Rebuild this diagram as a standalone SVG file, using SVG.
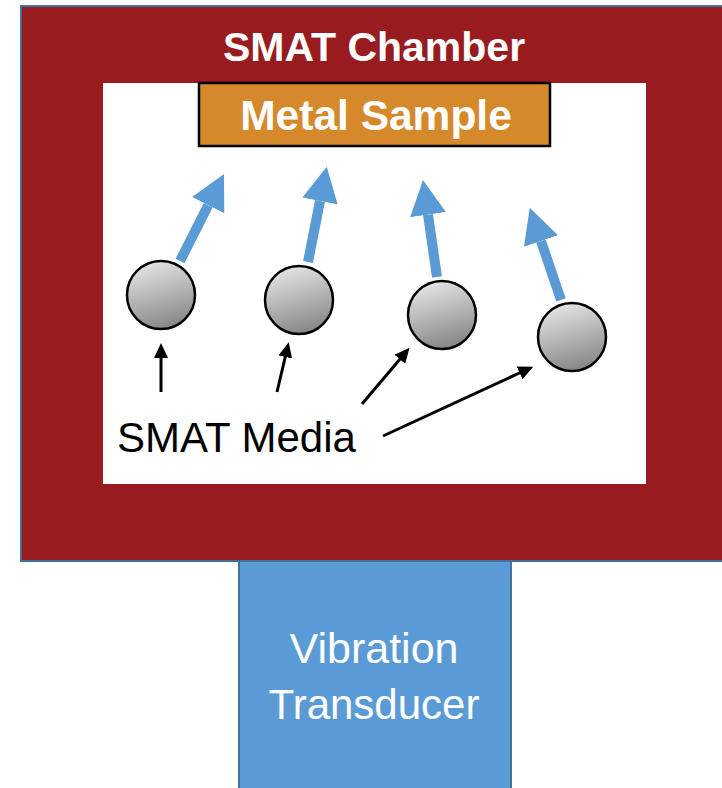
<svg xmlns="http://www.w3.org/2000/svg" width="722" height="788" viewBox="0 0 722 788">
<style>
.lbl{font-family:"Liberation Sans","DejaVu Sans",sans-serif;text-anchor:middle}
.w{fill:#ffffff}
.b{font-weight:bold}
.blue{stroke:#5B9BD5;stroke-width:10;fill:none}
.blk{stroke:#000;stroke-width:3;fill:none}
.ball{fill:url(#g);stroke:#000;stroke-width:2.5}
</style>
<defs>
<linearGradient id="g" x1="0.3" y1="0" x2="0.6" y2="1">
<stop offset="0" stop-color="#e6e6e6"/>
<stop offset="1" stop-color="#858585"/>
</linearGradient>
<marker id="ab" markerUnits="userSpaceOnUse" viewBox="0 0 35 36" refX="0" refY="18" markerWidth="35" markerHeight="36" orient="auto">
<path d="M0,0 L35,18 L0,36 Z" fill="#5B9BD5"/>
</marker>
<marker id="ak" markerUnits="userSpaceOnUse" viewBox="0 0 15 14" refX="1" refY="7" markerWidth="15" markerHeight="14" orient="auto">
<path d="M0,0 L15,7 L0,14 Z" fill="#000"/>
</marker>
</defs>
<g id="chamber">
<rect x="21" y="6" width="720" height="555" fill="#971B1F" stroke="#41719C" stroke-width="2"/>
<rect x="103" y="83" width="543" height="401" fill="#ffffff"/>
<text class="lbl w b" x="374" y="61" font-size="41">SMAT Chamber</text>
</g>
<g id="sample">
<rect x="199" y="83" width="351" height="63" fill="#D6892A" stroke="#000" stroke-width="2.5"/>
<text class="lbl w b" x="376" y="130" font-size="42.5">Metal Sample</text>
</g>
<g id="transducer">
<rect x="239" y="561" width="272" height="240" fill="#5B9BD5" stroke="#41719C" stroke-width="2"/>
<text class="lbl w" x="374" y="663" font-size="43">Vibration</text>
<text class="lbl w" x="374" y="719" font-size="42">Transducer</text>
</g>
<g id="media">
<circle id="ball1" class="ball" cx="161" cy="295" r="34"/>
<circle id="ball2" class="ball" cx="299" cy="300" r="34"/>
<circle id="ball3" class="ball" cx="442" cy="315" r="34"/>
<circle id="ball4" class="ball" cx="572" cy="337" r="34"/>
<text x="117" y="452" font-size="42" font-family="Liberation Sans, DejaVu Sans, sans-serif" fill="#000">SMAT Media</text>
</g>
<g id="connectors">
<line class="blue" x1="180" y1="261" x2="208.2" y2="205.2" marker-end="url(#ab)"/>
<line class="blue" x1="308" y1="262" x2="320" y2="201" marker-end="url(#ab)"/>
<line class="blue" x1="437" y1="277" x2="428" y2="214.6" marker-end="url(#ab)"/>
<line class="blue" x1="561" y1="300" x2="541" y2="241" marker-end="url(#ab)"/>
<line class="blk" x1="161" y1="392" x2="161" y2="357" marker-end="url(#ak)"/>
<line class="blk" x1="277" y1="392" x2="285.5" y2="356" marker-end="url(#ak)"/>
<line class="blk" x1="362" y1="404" x2="400.5" y2="358.5" marker-end="url(#ak)"/>
<line class="blk" x1="383" y1="436" x2="520.5" y2="372.5" marker-end="url(#ak)"/>
</g>
</svg>
